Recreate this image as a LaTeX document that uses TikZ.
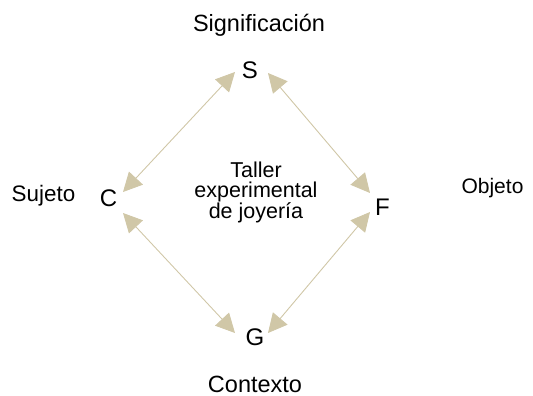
\documentclass[tikz,border=0pt]{standalone}
\usepackage{fontspec}
\setmainfont{Liberation Sans}
\usetikzlibrary{arrows.meta}
\definecolor{tan}{RGB}{208,199,167}
\begin{document}
\begin{tikzpicture}[x=1pt,y=-1pt,
  lbl/.style={anchor=base,inner sep=0pt},
  ltr/.style={anchor=base,inner sep=0pt,font=\fontsize{24}{24}\selectfont},
  link/.style={draw=tan,line width=0.9pt,
    {Triangle[length=19pt,width=19pt,fill=tan,color=tan]}-{Triangle[length=19pt,width=19pt,fill=tan,color=tan]}}]
\useasboundingbox (0,0) rectangle (533,396);
\node[lbl,font=\fontsize{23.5}{23.5}\selectfont] (sig) at (259,32) {Significación};
\node[ltr] (S) at (250,78) {S};
\node[lbl,font=\fontsize{22.4}{22.4}\selectfont] (suj) at (43.5,201) {Sujeto};
\node[ltr] (C) at (108.5,206) {C};
\node[anchor=base,inner sep=0pt,align=center,font=\fontsize{21.5}{20.5}\selectfont] (T) at (256,218) {Taller\\experimental\\de joyería};
\node[ltr] (F) at (382.5,215) {F};
\node[lbl,font=\fontsize{21}{21}\selectfont] (obj) at (492.5,193) {Objeto};
\node[ltr] (G) at (255,345) {G};
\node[lbl,font=\fontsize{23.5}{23.5}\selectfont] (ctx) at (255,392.5) {Contexto};
\coordinate (cS) at (123,192);
\coordinate (sC) at (235,72);
\coordinate (sF) at (268,73);
\coordinate (fS) at (370,193);
\coordinate (cG) at (123,213);
\coordinate (gC) at (235,333);
\coordinate (fG) at (370,212);
\coordinate (gF) at (268,333);
\draw[link] (cS) -- (sC);
\draw[link] (sF) -- (fS);
\draw[link] (cG) -- (gC);
\draw[link] (fG) -- (gF);
\end{tikzpicture}
\end{document}
